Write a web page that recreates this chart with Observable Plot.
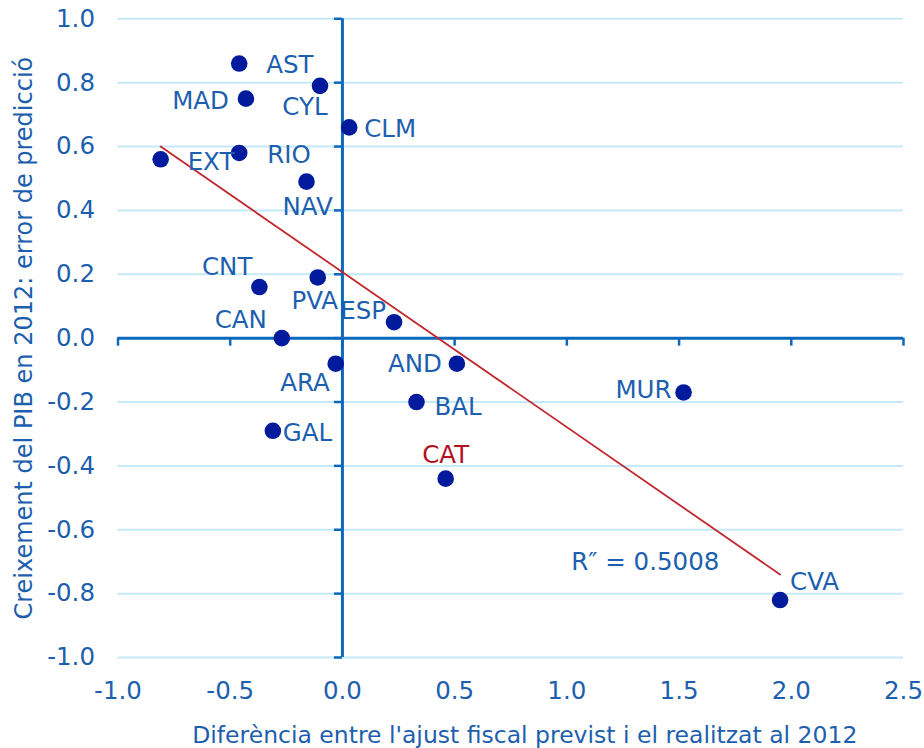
<!DOCTYPE html>
<html>
<head>
<meta charset="utf-8">
<script src="https://cdn.jsdelivr.net/npm/d3@7"></script>
<script src="https://cdn.jsdelivr.net/npm/@observablehq/plot@0.6"></script>
<style>
  html, body { margin: 0; padding: 0; background: #fff; }
  #chart svg { display: block; }
</style>
</head>
<body>
<div id="chart"></div>
<script>
// ---- data ----
const regions = ["AST","CYL","MAD","CLM","EXT","RIO","NAV","CNT","PVA","ESP","CAN","ARA","AND","BAL","GAL","CAT","MUR","CVA"];
const xValues = [-0.46,-0.10,-0.43,0.03,-0.81,-0.46,-0.16,-0.37,-0.11,0.23,-0.27,-0.03,0.51,0.33,-0.31,0.46,1.52,1.95];
const yValues = [0.86,0.79,0.75,0.66,0.56,0.58,0.49,0.16,0.19,0.05,0.00,-0.08,-0.08,-0.20,-0.29,-0.44,-0.17,-0.82];
const trendX = [-0.81, 1.95];
const trendY = [0.60, -0.74];
const xTicks = [-1.0,-0.5,0.0,0.5,1.0,1.5,2.0,2.5];
const yTicks = [-1.0,-0.8,-0.6,-0.4,-0.2,0.0,0.2,0.4,0.6,0.8,1.0];
const r2Label = "R\u2033 = 0.5008";
const r2Pos = [1.02, -0.70];
const xTitle = "Diferència entre l'ajust fiscal previst i el realitzat al 2012";
const yTitle = "Creixement del PIB en 2012: error de predicció";
const highlight = "CAT";

// ---- label placement (layout only) ----
const labelPlace = {
  AST: {a:"start", dx:27, dy:2},
  CYL: {a:"middle", dx:-15, dy:21},
  MAD: {a:"end", dx:-17, dy:3},
  CLM: {a:"start", dx:15, dy:2},
  EXT: {a:"start", dx:27, dy:3},
  RIO: {a:"start", dx:28, dy:2},
  NAV: {a:"middle", dx:1, dy:25},
  CNT: {a:"end", dx:-7, dy:-20},
  PVA: {a:"middle", dx:-3, dy:24},
  ESP: {a:"end", dx:-8, dy:-11},
  CAN: {a:"end", dx:-15, dy:-18},
  ARA: {a:"end", dx:-6, dy:19},
  AND: {a:"end", dx:-15, dy:0},
  BAL: {a:"start", dx:18, dy:5},
  GAL: {a:"start", dx:10, dy:2},
  CAT: {a:"middle", dx:0, dy:-24},
  MUR: {a:"end", dx:-12, dy:-2},
  CVA: {a:"start", dx:10, dy:-18}
};

const points = regions.map((r, i) => ({region: r, x: xValues[i], y: yValues[i]}));
const trend = trendX.map((x, i) => ({x, y: trendY[i]}));

const FONT = "DejaVu Sans";
const BLUE_TEXT = "#1d5fae";
const AXIS = "#0b68bb";
const GRID = "#c6e9f8";
const DOT = "#021a9c";
const RED = "#c1272d";
const CAT_RED = "#b3111f";
const FS = 24.5;

function labelMarks(anchor) {
  const subset = points.filter(p => labelPlace[p.region].a === anchor);
  return subset.map(p => Plot.text([p], {
    x: "x", y: "y", text: "region",
    textAnchor: anchor,
    dx: labelPlace[p.region].dx,
    dy: labelPlace[p.region].dy,
    fill: p.region === highlight ? CAT_RED : BLUE_TEXT,
    fontSize: FS
  }));
}

const chart = Plot.plot({
  width: 924,
  height: 748,
  marginLeft: 117.5,
  marginRight: 21,
  marginTop: 18.3,
  marginBottom: 91,
  style: {fontFamily: FONT, background: "#fff", overflow: "visible"},
  x: {domain: [-1, 2.5]},
  y: {domain: [-1, 1]},
  marks: [
    // horizontal gridlines
    Plot.ruleY(yTicks.filter(d => d !== 0), {y: d => d, stroke: GRID, strokeWidth: 2}),
    // axis lines through origin
    Plot.ruleY([0], {stroke: AXIS, strokeWidth: 3}),
    Plot.ruleX([0], {y1: -1, y2: 1, stroke: AXIS, strokeWidth: 3}),
    // tick marks
    Plot.ruleX(xTicks, {x: d => d, y1: 0, y2: 0, insetTop: 0, insetBottom: -8, stroke: AXIS, strokeWidth: 2.5}),
    Plot.ruleY(yTicks, {y: d => d, x1: 0, x2: 0, insetLeft: -8, insetRight: 0, stroke: AXIS, strokeWidth: 2.5}),
    // tick labels
    Plot.axisY({ticks: yTicks, tickSize: 0, tickPadding: 23, tickFormat: d => d.toFixed(1), fontSize: FS, fill: BLUE_TEXT, color: BLUE_TEXT, label: null}),
    Plot.axisX({ticks: xTicks, tickSize: 0, tickPadding: 24, tickFormat: d => d.toFixed(1), fontSize: FS, fill: BLUE_TEXT, color: BLUE_TEXT, label: null}),
    // trend line
    Plot.line(trend, {x: "x", y: "y", stroke: RED, strokeWidth: 1.8}),
    // dots
    Plot.dot(points, {x: "x", y: "y", r: 8.3, fill: DOT, stroke: "none"}),
    // labels
    ...labelMarks("start"),
    ...labelMarks("middle"),
    ...labelMarks("end"),
    // R² annotation
    Plot.text([r2Label], {x: r2Pos[0], y: r2Pos[1], text: d => d, textAnchor: "start", fill: BLUE_TEXT, fontSize: FS}),
    // axis titles
    Plot.text([xTitle], {frameAnchor: "bottom", text: d => d, textAnchor: "middle", lineAnchor: "middle", dx: 14, dy: 77.5, fill: BLUE_TEXT, fontSize: 23.5}),
    Plot.text([yTitle], {frameAnchor: "left", text: d => d, textAnchor: "middle", lineAnchor: "middle", rotate: -90, dx: -94, fill: BLUE_TEXT, fontSize: 24})
  ]
});

document.getElementById("chart").appendChild(chart);
</script>
</body>
</html>
